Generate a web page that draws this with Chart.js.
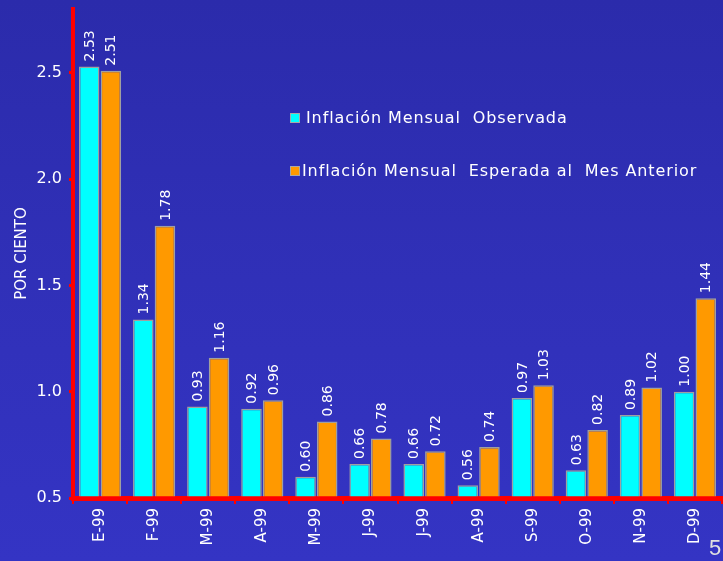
<!DOCTYPE html>
<html>
<head>
<meta charset="utf-8">
<script src="https://cdn.jsdelivr.net/npm/chart.js@4/dist/chart.umd.min.js"></script>
<style>
  html, body { margin:0; padding:0; }
  body { width:723px; height:561px; overflow:hidden; position:relative;
         background: linear-gradient(to bottom, #2b2bab 0%, #3030b8 50%, #3434c4 100%);
         font-family: "DejaVu Sans", sans-serif; }
  #c { position:absolute; left:0; top:0; }
  .leg { position:absolute; color:#fff; font-size:16px; letter-spacing:0.9px; white-space:pre; line-height:18px; }
  .sw { position:absolute; width:8px; height:8px; border:1px solid #a8a8a8; }
  #pg { position:absolute; left:709px; top:535px; color:#e0e0e0; font-size:22px; font-family:"Liberation Sans", sans-serif; }
</style>
</head>
<body>
<canvas id="c" width="723" height="561"></canvas>
<div class="sw" style="left:290px; top:113px; background:#00ffff;"></div>
<div class="leg" style="left:306px; top:109px;">Inflación Mensual  Observada</div>
<div class="sw" style="left:290px; top:166px; background:#ff9900;"></div>
<div class="leg" style="left:302px; top:162px;">Inflación Mensual  Esperada al  Mes Anterior</div>
<div id="pg">5</div>
<script>
const categories = ['E-99','F-99','M-99','A-99','M-99','J-99','J-99','A-99','S-99','O-99','N-99','D-99'];
const observada = [2.53, 1.34, 0.93, 0.92, 0.60, 0.66, 0.66, 0.56, 0.97, 0.63, 0.89, 1.00];
const esperada  = [2.51, 1.78, 1.16, 0.96, 0.86, 0.78, 0.72, 0.74, 1.03, 0.82, 1.02, 1.44];
const seriesNames = ['Inflación Mensual Observada', 'Inflación Mensual Esperada al Mes Anterior'];
const yMin = 0.5, yMax = 2.8, yStep = 0.5;

const FONT = '"DejaVu Sans", sans-serif';

const valueLabels = {
  id: 'valueLabels',
  afterDatasetsDraw(chart) {
    const ctx = chart.ctx;
    chart.data.datasets.forEach((ds, i) => {
      chart.getDatasetMeta(i).data.forEach((bar, j) => {
        ctx.save();
        ctx.translate(bar.x + 1, bar.y - 5);
        ctx.rotate(-Math.PI / 2);
        ctx.fillStyle = '#ffffff';
        ctx.font = '14px ' + FONT;
        ctx.textAlign = 'left';
        ctx.textBaseline = 'middle';
        ctx.fillText(ds.data[j].toFixed(2), 0, 0);
        ctx.restore();
      });
    });
  }
};

new Chart(document.getElementById('c'), {
  type: 'bar',
  data: {
    labels: categories,
    datasets: [
      { label: seriesNames[0], data: observada, backgroundColor: '#00ffff', borderColor: '#a0a0a0', borderWidth: 1.5 },
      { label: seriesNames[1], data: esperada, backgroundColor: '#ff9900', borderColor: '#a0a0a0', borderWidth: 1.5 }
    ]
  },
  options: {
    responsive: false,
    animation: false,
    datasets: { bar: { categoryPercentage: 0.8, barPercentage: 0.95, base: yMin } },
    layout: { padding: { top: 9, right: 1, left: 0, bottom: 0 } },
    plugins: { legend: { display: false }, tooltip: { enabled: false } },
    scales: {
      x: {
        z: 1,
        grid: { offset: true, drawOnChartArea: false, color: '#ff0000', tickLength: 6, lineWidth: 2 },
        border: { color: '#ff0000', width: 5 },
        ticks: { color: '#ffffff', font: { family: FONT, size: 15 }, minRotation: 90, maxRotation: 90, padding: 4, autoSkip: false },
        afterFit(s) { s.height = 63; s.paddingLeft = 0; s.paddingRight = 0; }
      },
      y: {
        z: 1,
        min: yMin, max: yMax,
        ticks: { stepSize: yStep, includeBounds: false, color: '#ffffff', font: { family: FONT, size: 16 }, padding: 7,
                 callback: v => Number(v).toFixed(1) },
        grid: { drawOnChartArea: false, color: '#ff0000', tickLength: 4, lineWidth: 3 },
        border: { color: '#ff0000', width: 4 },
        title: { display: true, text: 'POR CIENTO', color: '#ffffff', font: { family: FONT, size: 15 }, padding: { top: 13, bottom: 0 } },
        afterFit(s) { s.width = 73; s.paddingTop = 0; s.paddingBottom = 0; }
      }
    }
  },
  plugins: [valueLabels]
});
</script>
</body>
</html>
